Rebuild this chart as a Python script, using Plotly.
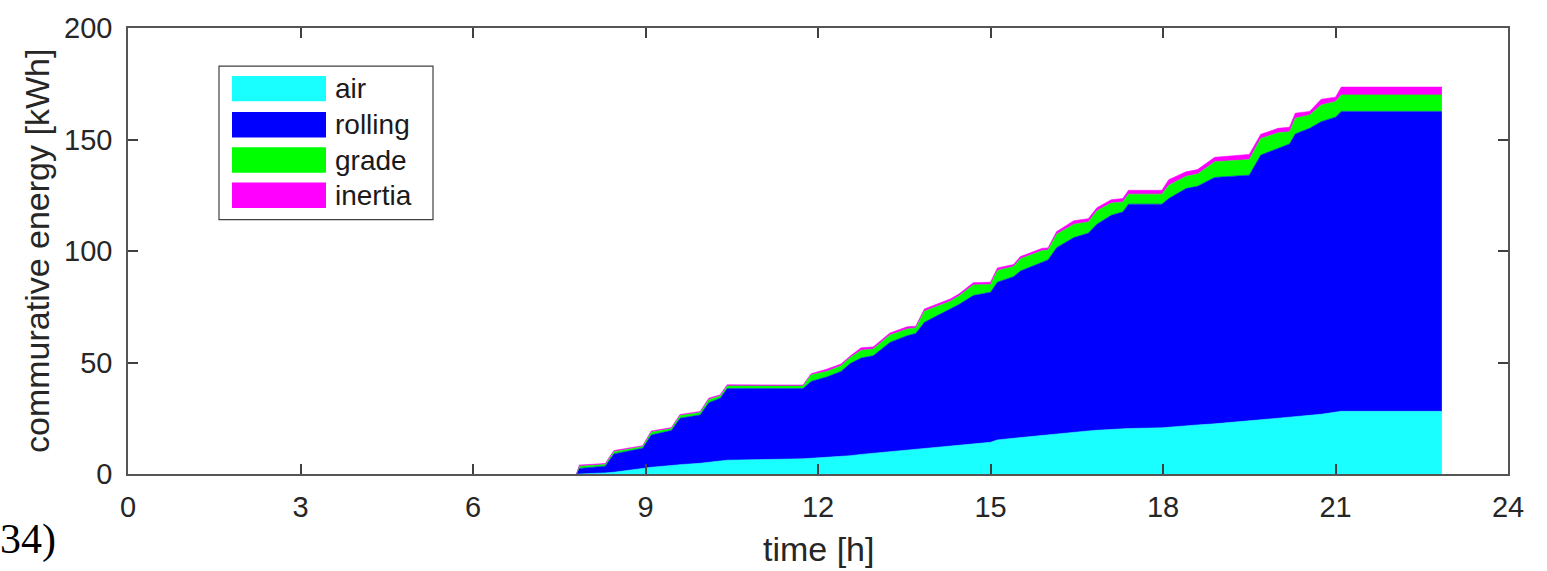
import plotly.graph_objects as go

# Cumulative energy components over the day [kWh]
time_h = [7.8, 7.85, 8.3, 8.45, 8.95, 9.1, 9.45, 9.6, 9.95, 10.1, 10.3, 10.42,
          11.74, 11.88, 12.15, 12.4, 12.56, 12.75, 12.96, 13.05, 13.25, 13.55,
          13.7, 13.85, 14.07, 14.3, 14.45, 14.7, 15.0, 15.12, 15.4, 15.52, 15.9,
          16.0, 16.15, 16.45, 16.7, 16.85, 17.1, 17.3, 17.4, 17.98, 18.1, 18.4,
          18.6, 18.9, 19.5, 19.7, 20.0, 20.2, 20.3, 20.55, 20.75, 21.0, 21.1, 22.85]

air = [0, 0, 0.5, 0.8, 2.5, 3.0, 3.8, 4.2, 4.8, 5.2, 5.8, 6.2,
       6.8, 7.0, 7.3, 7.8, 8.2, 8.8, 9.3, 9.6, 10.0, 10.8,
       11.0, 11.3, 11.8, 12.3, 12.7, 13.3, 14.2, 15.3, 16.0, 16.3, 17.5,
       17.8, 18.2, 18.8, 19.3, 19.6, 20.0, 20.2, 20.4, 20.7, 21.0, 21.6,
       22.0, 22.5, 23.7, 24.2, 25.0, 25.5, 25.8, 26.3, 26.8, 27.6, 28.1, 28.1]

rolling = [0, 2.5, 3.0, 8.2, 9.0, 14.5, 15.7, 20.8, 21.7, 26.8, 28.2, 32.1,
           31.5, 34.5, 36.2, 38.2, 41.3, 43.2, 43.7, 45.4, 49.0, 51.2,
           52.0, 56.7, 59.2, 61.7, 63.3, 66.7, 67.3, 70.7, 72.5, 74.7, 77.5,
           78.2, 83.3, 87.2, 88.7, 92.4, 96.0, 97.3, 100.6, 100.3, 102.5, 106.4,
           107.0, 110.5, 110.3, 118.8, 121.0, 122.5, 126.7, 128.7, 131.2, 132.4, 134.5, 134.5]

grade = [0, 1.0, 0.8, 1.0, 0.8, 1.3, 0.9, 1.2, 1.1, 1.4, 1.0, 1.2,
         1.2, 3.0, 2.5, 2.5, 2.7, 3.5, 3.0, 3.0, 3.3, 3.0,
         2.5, 5.0, 4.3, 3.5, 3.8, 4.8, 3.5, 5.3, 4.5, 5.5, 5.2,
         4.4, 6.0, 6.0, 5.0, 6.0, 5.5, 4.5, 4.5, 4.5, 6.0, 5.5,
         5.5, 7.0, 7.0, 7.5, 7.0, 5.5, 7.0, 6.0, 7.5, 7.0, 7.4, 7.4]

inertia = [0, 0.5, 0.4, 0.5, 0.4, 0.5, 0.4, 0.5, 0.4, 0.6, 0.5, 0.5,
           0.4, 0.5, 1.0, 0.8, 0.7, 1.1, 1.0, 0.8, 0.9, 1.0,
           0.8, 1.0, 1.0, 1.0, 0.9, 1.0, 1.0, 1.1, 0.9, 1.0, 1.0,
           1.0, 1.2, 1.6, 1.5, 1.4, 1.5, 1.5, 1.7, 1.7, 2.5, 2.0,
           2.0, 2.0, 2.3, 1.8, 2.0, 2.0, 2.3, 1.6, 2.5, 2.0, 3.5, 3.5]

series_names = ["air", "rolling", "grade", "inertia"]
series_values = [air, rolling, grade, inertia]
series_colors = ["#19FFFF", "#0000FF", "#00FF00", "#FF00FF"]

x_ticks = [0, 3, 6, 9, 12, 15, 18, 21, 24]
y_ticks = [0, 50, 100, 150, 200]

fig = go.Figure()
for name, vals, col in zip(series_names, series_values, series_colors):
    fig.add_trace(go.Scatter(
        x=time_h, y=vals, name=name, mode="lines",
        stackgroup="energy", line=dict(color=col, width=0.6),
        fillcolor=col, showlegend=False,
    ))

# Plot-area geometry in pixels (for placing the legend box and panel label)
W, H = 1547, 571
L, R, T, B = 128, 39, 18, 97
pw, ph = W - L - R, H - T - B

def px_x(px):
    return (px - L) / pw

def px_y(py):
    return (H - B - py) / ph

sans = "Liberation Sans, Arial, sans-serif"
axis_font = dict(family=sans, size=29, color="#262626")
title_font = dict(family=sans, size=34, color="#262626")

shapes = []
annotations = []

# Legend box
shapes.append(dict(type="rect", xref="paper", yref="paper",
                   x0=px_x(219), x1=px_x(433), y0=px_y(214), y1=px_y(57),
                   line=dict(color="#404040", width=1.2), fillcolor="white", layer="above"))
row_tops = [67, 104, 140, 176]
for top, name, col in zip(row_tops, series_names, series_colors):
    shapes.append(dict(type="rect", xref="paper", yref="paper",
                       x0=px_x(232), x1=px_x(326), y0=px_y(top + 26), y1=px_y(top),
                       line=dict(width=0), fillcolor=col, layer="above"))
    annotations.append(dict(xref="paper", yref="paper", x=px_x(333), y=px_y(top + 13),
                            text=name, showarrow=False, xanchor="left", yanchor="middle",
                            font=dict(family=sans, size=28, color="#1a1a1a")))

# Axis titles
annotations.append(dict(xref="paper", yref="paper", x=0.5, y=px_y(551),
                        text="time [h]", showarrow=False, xanchor="center", yanchor="middle",
                        font=title_font))
annotations.append(dict(xref="paper", yref="paper", x=px_x(37), y=px_y(246),
                        text="commurative energy [kWh]", showarrow=False, textangle=-90,
                        xanchor="center", yanchor="middle", font=title_font))

# Panel label
annotations.append(dict(xref="paper", yref="paper", x=px_x(-2), y=px_y(541),
                        text="34)", showarrow=False, xanchor="left", yanchor="middle",
                        font=dict(family="Liberation Serif, Times New Roman, serif", size=42, color="black")))

fig.update_layout(
    width=W, height=H,
    margin=dict(l=L, r=R, t=T, b=B),
    paper_bgcolor="white", plot_bgcolor="white",
    shapes=shapes, annotations=annotations,
    showlegend=False,
)
fig.update_xaxes(
    range=[0, 24], tickvals=x_ticks, ticktext=[str(v) for v in x_ticks],
    showgrid=False, zeroline=False,
    showline=True, mirror="ticks", linecolor="#555555", linewidth=1.5,
    ticks="inside", ticklen=10, tickwidth=1.5, tickcolor="#404040",
    tickfont=axis_font, ticklabelstandoff=6,
)
fig.update_yaxes(
    range=[0, 200], tickvals=y_ticks, ticktext=[str(v) for v in y_ticks],
    showgrid=False, zeroline=False,
    showline=True, mirror="ticks", linecolor="#555555", linewidth=1.5,
    ticks="inside", ticklen=10, tickwidth=1.5, tickcolor="#404040",
    tickfont=axis_font, ticklabelstandoff=8,
)

fig.write_html("out.html")
